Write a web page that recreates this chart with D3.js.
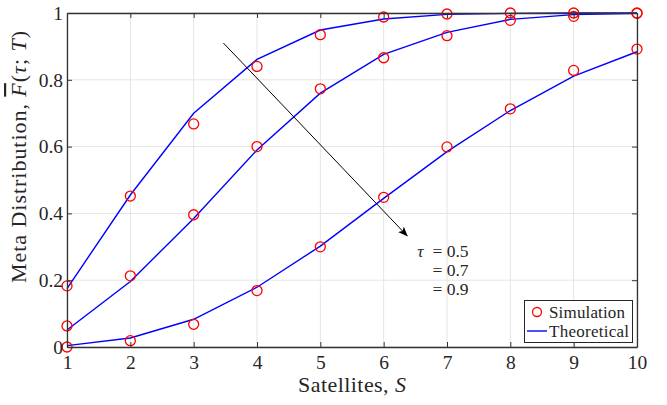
<!DOCTYPE html>
<html>
<head>
<meta charset="utf-8">
<script src="https://cdn.jsdelivr.net/npm/d3@7"></script>
<style>
  html, body { margin: 0; padding: 0; background: #fff; }
  svg { display: block; }
  text { font-family: "Liberation Serif", "DejaVu Serif", serif; fill: #262626; }
</style>
</head>
<body>
<svg id="chart" width="667" height="405"></svg>
<script>
// Number of satellites
const satellites = [1, 2, 3, 4, 5, 6, 7, 8, 9, 10];
// SINR thresholds for each curve
const tauValues = [0.5, 0.7, 0.9];

// Monte-Carlo results, one array per threshold
const simTau05 = [0.183, 0.452, 0.668, 0.840, 0.935, 0.988, 0.997, 1.000, 1.000, 1.000];
const simTau07 = [0.063, 0.213, 0.396, 0.600, 0.773, 0.866, 0.932, 0.978, 0.990, 0.999];
const simTau09 = [0.000, 0.019, 0.068, 0.169, 0.300, 0.448, 0.599, 0.713, 0.828, 0.892];

// Analytical results
const theoTau05 = [0.175, 0.455, 0.700, 0.861, 0.949, 0.982, 0.996, 0.999, 1.000, 1.000];
const theoTau07 = [0.051, 0.196, 0.385, 0.590, 0.760, 0.876, 0.942, 0.981, 0.995, 0.999];
const theoTau09 = [0.004, 0.027, 0.083, 0.179, 0.302, 0.445, 0.585, 0.708, 0.811, 0.884];

const xTicks = [1, 2, 3, 4, 5, 6, 7, 8, 9, 10];
const yTicks = [0, 0.2, 0.4, 0.6, 0.8, 1];
const yTickLabels = ["0", "0.2", "0.4", "0.6", "0.8", "1"];

const simSeries = [simTau05, simTau07, simTau09];
const theoSeries = [theoTau05, theoTau07, theoTau09];

const svg = d3.select("#chart");
const plotLeft = 67, plotRight = 637, plotTop = 13, plotBottom = 347;

const x = d3.scaleLinear().domain([1, 10]).range([plotLeft, plotRight]);
const y = d3.scaleLinear().domain([0, 1]).range([plotBottom, plotTop]);

const axisColor = "#333333";
const gridColor = "#e5e5e5";

// grid
const grid = svg.append("g");
grid.selectAll("line.gx").data(xTicks).join("line")
  .attr("x1", d => x(d)).attr("x2", d => x(d))
  .attr("y1", plotTop).attr("y2", plotBottom)
  .attr("stroke", gridColor).attr("stroke-width", 1);
grid.selectAll("line.gy").data(yTicks).join("line")
  .attr("y1", d => y(d)).attr("y2", d => y(d))
  .attr("x1", plotLeft).attr("x2", plotRight)
  .attr("stroke", gridColor).attr("stroke-width", 1);

// theoretical curves
const line = d3.line().x((d, i) => x(satellites[i])).y(d => y(d));
svg.append("g").selectAll("path").data(theoSeries).join("path")
  .attr("d", line)
  .attr("fill", "none")
  .attr("stroke", "#0000ff")
  .attr("stroke-width", 1.4);

// simulation markers
svg.append("g").selectAll("g").data(simSeries).join("g")
  .selectAll("circle").data(d => d).join("circle")
  .attr("cx", (d, i) => x(satellites[i]))
  .attr("cy", d => y(d))
  .attr("r", 5)
  .attr("fill", "none")
  .attr("stroke", "#ff0000")
  .attr("stroke-width", 1.3);

// axes box with inward ticks
const axes = svg.append("g");
const tickLen = 5;
const xAxisB = d3.axisBottom(x).tickValues(xTicks).tickSizeInner(-tickLen).tickSizeOuter(0).tickPadding(8).tickFormat(d3.format("d"));
const xAxisT = d3.axisTop(x).tickValues(xTicks).tickSizeInner(-tickLen).tickSizeOuter(0).tickFormat("");
const yAxisL = d3.axisLeft(y).tickValues(yTicks).tickSizeInner(-tickLen).tickSizeOuter(0).tickPadding(4)
  .tickFormat((d, i) => yTickLabels[i]);
const yAxisR = d3.axisRight(y).tickValues(yTicks).tickSizeInner(-tickLen).tickSizeOuter(0).tickFormat("");

const gB = axes.append("g").attr("transform", `translate(0,${plotBottom})`).call(xAxisB);
const gT = axes.append("g").attr("transform", `translate(0,${plotTop})`).call(xAxisT);
const gL = axes.append("g").attr("transform", `translate(${plotLeft},0)`).call(yAxisL);
const gR = axes.append("g").attr("transform", `translate(${plotRight},0)`).call(yAxisR);
[gB, gT, gL, gR].forEach(g => {
  g.select(".domain").attr("stroke", axisColor).attr("stroke-width", 1.3);
  g.selectAll(".tick line").attr("stroke", axisColor).attr("stroke-width", 1);
  g.selectAll(".tick text")
    .attr("font-size", 19.5)
    .attr("fill", "#262626");
});

// axis titles
svg.append("text")
  .attr("x", (plotLeft + plotRight) / 2).attr("y", 392)
  .attr("text-anchor", "middle")
  .attr("font-size", 22)
  .attr("textLength", 108)
  .attr("lengthAdjust", "spacing")
  .call(t => {
    t.append("tspan").text("Satellites, ");
    t.append("tspan").attr("font-style", "italic").text("S");
  });

const yTitle = svg.append("text")
  .attr("transform", `translate(26,157) rotate(-90)`)
  .attr("text-anchor", "middle")
  .attr("font-size", 22)
  .attr("textLength", 252)
  .attr("lengthAdjust", "spacing");
yTitle.append("tspan").text("Meta Distribution, ");
yTitle.append("tspan").attr("font-style", "italic").style("text-decoration", "overline").text("F");
yTitle.append("tspan").text("(");
yTitle.append("tspan").attr("font-style", "italic").text("τ");
yTitle.append("tspan").text("; ");
yTitle.append("tspan").attr("font-style", "italic").text("T");
yTitle.append("tspan").text(")");

// arrow showing increasing threshold
const defs = svg.append("defs");
defs.append("marker")
  .attr("id", "arrowhead")
  .attr("viewBox", "0 0 10 10")
  .attr("refX", 9).attr("refY", 5)
  .attr("markerWidth", 10).attr("markerHeight", 10)
  .attr("markerUnits", "userSpaceOnUse")
  .attr("orient", "auto")
  .append("path").attr("d", "M0,1 L10,5 L0,9 L2.5,5 Z").attr("fill", "#000");

svg.append("line")
  .attr("x1", x(3.47)).attr("y1", y(0.91))
  .attr("x2", x(6.37)).attr("y2", y(0.333))
  .attr("stroke", "#000").attr("stroke-width", 1)
  .attr("marker-end", "url(#arrowhead)");

// threshold annotation
const annot = svg.append("g").attr("font-size", 17.5);
annot.append("text")
  .attr("x", x(6.53)).attr("y", y(0.27))
  .attr("font-style", "italic").text("τ");
annot.selectAll("text.val").data(tauValues).join("text")
  .attr("class", "val")
  .attr("x", x(6.77))
  .attr("y", (d, i) => y(0.27) + i * 19)
  .text(d => "= " + d);

// legend
const lg = svg.append("g");
lg.append("rect")
  .attr("x", 524.5).attr("y", 300.5).attr("width", 108).attr("height", 42)
  .attr("fill", "#fff").attr("stroke", "#262626").attr("stroke-width", 1);
lg.append("circle").attr("cx", 537).attr("cy", 312).attr("r", 4.5)
  .attr("fill", "none").attr("stroke", "#ff0000").attr("stroke-width", 1.3);
lg.append("line").attr("x1", 527).attr("x2", 547).attr("y1", 331).attr("y2", 331)
  .attr("stroke", "#0000ff").attr("stroke-width", 1.4);
lg.append("text").attr("x", 549).attr("y", 317.5).attr("font-size", 17)
  .attr("textLength", 76).attr("lengthAdjust", "spacing").text("Simulation");
lg.append("text").attr("x", 549).attr("y", 336.5).attr("font-size", 17)
  .attr("textLength", 80).attr("lengthAdjust", "spacing").text("Theoretical");
</script>
</body>
</html>
